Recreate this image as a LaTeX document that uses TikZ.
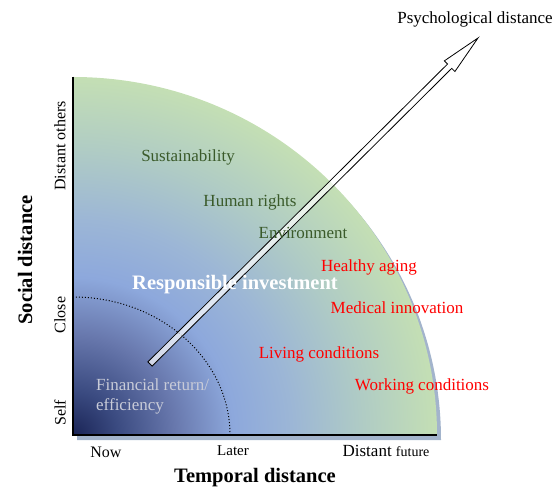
\documentclass[tikz,border=0pt]{standalone}
\usepackage{fontspec}
\setmainfont{Liberation Serif}
\usetikzlibrary{calc}

\definecolor{navy}{HTML}{1A2456}
\definecolor{slate}{HTML}{3A4A80}
\definecolor{dusk}{HTML}{6878AD}
\definecolor{sky}{HTML}{8DA8DC}
\definecolor{haze}{HTML}{9CB6D6}
\definecolor{sage}{HTML}{B0CCC4}
\definecolor{leaf}{HTML}{C4DFB4}
\definecolor{rim}{HTML}{A3B4CC}
\definecolor{topicgreen}{HTML}{3A5A2A}
\definecolor{faded}{HTML}{C8CBD8}

% the shaded path's box covers the inner 25bp
\pgfdeclareradialshading{quarterglow}{\pgfpoint{0bp}{0bp}}{%
  color(0bp)=(navy); color(3bp)=(slate); color(7bp)=(dusk);
  color(11bp)=(sky); color(15bp)=(haze); color(20bp)=(sage);
  color(25bp)=(leaf); color(50bp)=(leaf)}

\begin{document}
\begin{tikzpicture}[x=1pt,y=1pt,
  topic/.style={font=\fontsize{17}{20}\selectfont,text=topicgreen},
  issue/.style={font=\fontsize{17}{20}\selectfont,text=red},
  tick/.style={font=\fontsize{16}{19}\selectfont},
  heading/.style={font=\fontsize{20.5}{24}\selectfont\bfseries}]

  \useasboundingbox (-73,-52) rectangle (480,435);

  \coordinate (o) at (0,0);
  \coordinate (ytop) at (0,358);
  \coordinate (xend) at (364,0);

  % shadow, then the shaded quarter
  \fill[rim] (4,-5) -- (368,-5) arc[start angle=0,end angle=90,x radius=364,y radius=358] -- cycle;
  \begin{scope}
    \clip (o) -- (xend) arc[start angle=0,end angle=90,x radius=364,y radius=358] -- cycle;
    \shade[shading=quarterglow] (-364,-358) rectangle (364,358);
  \end{scope}

  \draw[dotted,line width=1pt] (157,0) arc[start angle=0,end angle=90,x radius=157,y radius=138];

  \draw[line width=1.4pt] (ytop) -- (o) -- (xend);

  % hollow arrow
  \coordinate (tail) at (77,71);
  \coordinate (tip) at (405,397);
  \coordinate (neck) at ($(tip)!40pt!(tail)$);
  \draw[line width=0.8pt,fill=white,fill opacity=0.7]
    ($(tail)!3pt!90:(tip)$) -- ($(neck)!3pt!-90:(tail)$) -- ($(neck)!7.5pt!-90:(tail)$)
    -- (tip) -- ($(neck)!7.5pt!90:(tail)$) -- ($(neck)!3pt!90:(tail)$)
    -- ($(tail)!3pt!-90:(tip)$) -- cycle;

  \node[font=\fontsize{17}{20}\selectfont] (psy) at (402,416) {Psychological distance};

  \node[heading,rotate=90] (social) at (-48,175) {Social distance};
  \node[tick,rotate=90] (others) at (-13,289) {Distant others};
  \node[tick,rotate=90] (close) at (-13,120) {Close};
  \node[tick,rotate=90] (self) at (-13,22) {Self};

  \node[tick] (now) at (33,-17) {Now};
  \node[font=\fontsize{15}{18}\selectfont] (later) at (160,-16) {Later};
  \node[font=\fontsize{17}{20}\selectfont] (future) at (313,-16) {Distant {\fontsize{14}{17}\selectfont future}};
  \node[heading] (temporal) at (182,-43) {Temporal distance};

  \node[topic] (sust) at (115,278) {Sustainability};
  \node[topic] (rights) at (177,233) {Human rights};
  \node[topic] (env) at (230,202) {Environment};

  \node[heading,text=white] (ri) at (162,150) {Responsible investment};

  \node[issue] (aging) at (296,168) {Healthy aging};
  \node[issue] (medical) at (324,127) {Medical innovation};
  \node[issue] (living) at (246,81) {Living conditions};
  \node[issue] (working) at (349,49) {Working conditions};

  \node[font=\fontsize{17}{20}\selectfont,text=faded,align=left,anchor=west,inner sep=0pt] (fin) at (23,39) {Financial return/\\efficiency};
\end{tikzpicture}
\end{document}
